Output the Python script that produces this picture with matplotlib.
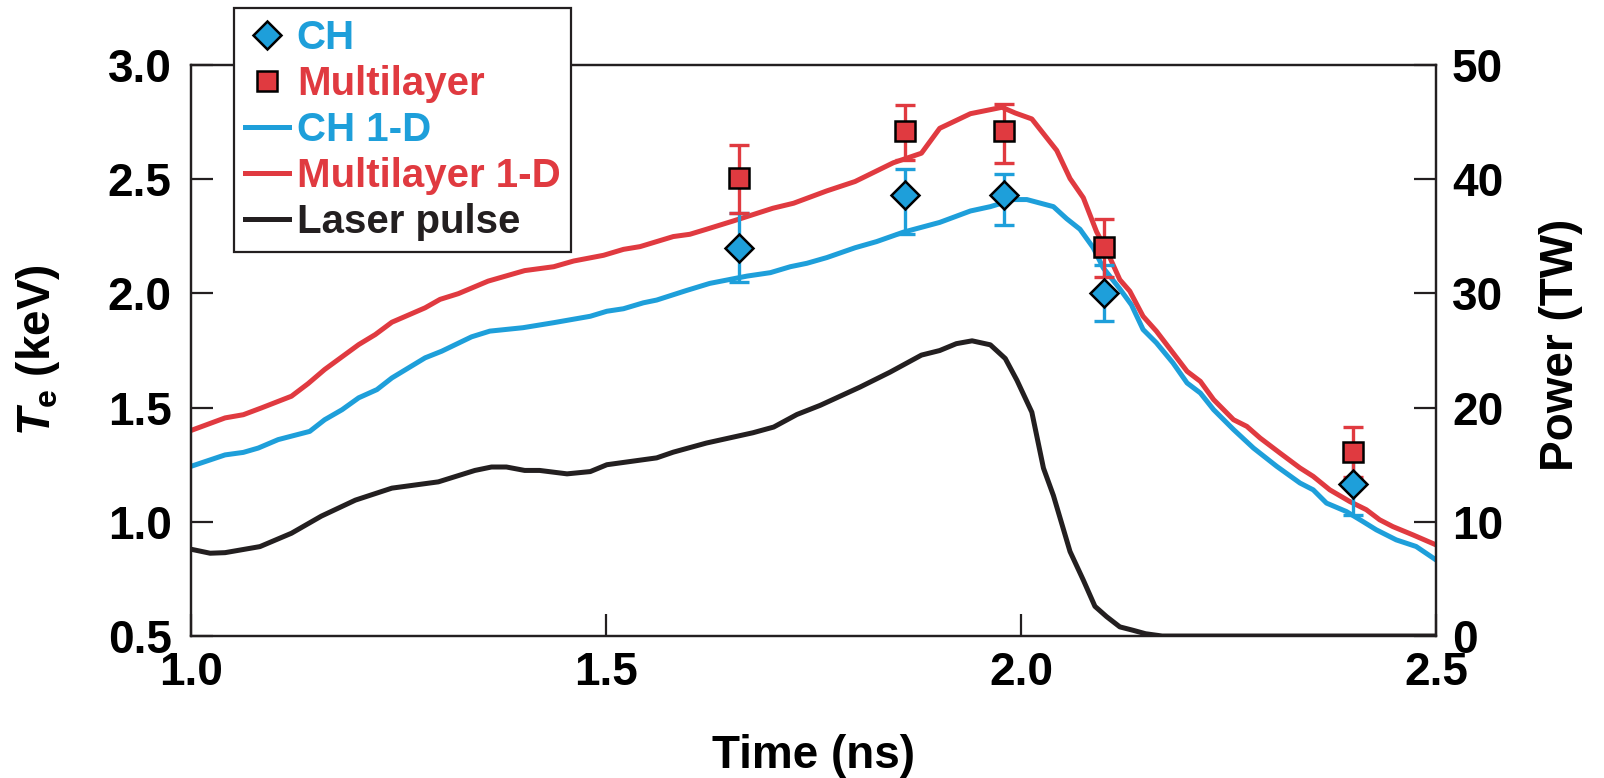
import matplotlib
matplotlib.use("Agg")
import matplotlib.pyplot as plt

# Fonts: bold Helvetica look-alike
plt.rcParams['font.family'] = ['Liberation Sans', 'DejaVu Sans']
plt.rcParams['font.weight'] = 'bold'
plt.rcParams['mathtext.fontset'] = 'custom'
plt.rcParams['mathtext.rm'] = 'Liberation Sans:bold'
plt.rcParams['mathtext.it'] = 'Liberation Sans:italic:bold'
plt.rcParams['mathtext.bf'] = 'Liberation Sans:bold'

BLUE = "#1e9fda"
RED = "#e03a40"
BLACK = "#231f20"

# Simulated Te, multilayer 1-D (ns, keV)
t_ml_1d = [1.0, 1.041, 1.063, 1.085, 1.121, 1.141, 1.161, 1.202, 1.222, 1.242,
           1.282, 1.30, 1.322, 1.358, 1.402, 1.437, 1.461, 1.497, 1.521, 1.541,
           1.581, 1.601, 1.621, 1.653, 1.701, 1.726, 1.766, 1.80, 1.846, 1.88,
           1.902, 1.939, 1.977, 1.993, 2.013, 2.043, 2.059, 2.075, 2.091, 2.105,
           2.119, 2.131, 2.147, 2.163, 2.183, 2.20, 2.216, 2.232, 2.256, 2.272,
           2.288, 2.312, 2.336, 2.352, 2.372, 2.396, 2.416, 2.432, 2.448, 2.472, 2.50]
te_ml_1d = [1.40, 1.455, 1.469, 1.499, 1.55, 1.605, 1.667, 1.776, 1.82, 1.874,
            1.937, 1.974, 1.999, 2.054, 2.10, 2.117, 2.142, 2.167, 2.193, 2.205,
            2.249, 2.259, 2.281, 2.317, 2.373, 2.395, 2.449, 2.49, 2.572, 2.614,
            2.723, 2.787, 2.815, 2.79, 2.764, 2.626, 2.503, 2.419, 2.27, 2.173,
            2.06, 2.01, 1.90, 1.835, 1.74, 1.659, 1.615, 1.535, 1.447, 1.418,
            1.367, 1.301, 1.236, 1.199, 1.14, 1.089, 1.053, 1.009, 0.979, 0.943, 0.899]

# Simulated Te, CH 1-D
t_ch_1d = [1.0, 1.041, 1.063, 1.081, 1.105, 1.143, 1.161, 1.182, 1.202, 1.224,
           1.242, 1.282, 1.302, 1.338, 1.36, 1.40, 1.437, 1.481, 1.501, 1.521,
           1.545, 1.561, 1.597, 1.625, 1.67, 1.698, 1.722, 1.742, 1.766, 1.80,
           1.826, 1.858, 1.902, 1.939, 1.963, 1.991, 2.007, 2.039, 2.055, 2.071,
           2.087, 2.099, 2.119, 2.133, 2.147, 2.163, 2.183, 2.20, 2.216, 2.232,
           2.256, 2.28, 2.308, 2.336, 2.352, 2.368, 2.392, 2.412, 2.428, 2.452,
           2.476, 2.50]
te_ch_1d = [1.243, 1.293, 1.304, 1.323, 1.36, 1.396, 1.447, 1.491, 1.543, 1.579,
            1.63, 1.718, 1.747, 1.81, 1.835, 1.85, 1.872, 1.90, 1.922, 1.933,
            1.959, 1.971, 2.013, 2.044, 2.076, 2.091, 2.117, 2.132, 2.157, 2.20,
            2.227, 2.268, 2.311, 2.361, 2.38, 2.411, 2.411, 2.38, 2.327, 2.281,
            2.20, 2.112, 2.02, 1.95, 1.842, 1.784, 1.696, 1.608, 1.564, 1.491,
            1.404, 1.323, 1.243, 1.17, 1.14, 1.082, 1.045, 1.001, 0.965, 0.921,
            0.892, 0.833]

# Laser pulse power (TW)
t_laser = [1.0, 1.023, 1.041, 1.083, 1.121, 1.157, 1.198, 1.242, 1.298, 1.342,
           1.362, 1.38, 1.402, 1.42, 1.453, 1.481, 1.501, 1.561, 1.581, 1.621,
           1.677, 1.702, 1.73, 1.758, 1.782, 1.806, 1.842, 1.88, 1.902, 1.922,
           1.941, 1.963, 1.981, 1.995, 2.013, 2.027, 2.039, 2.059, 2.075, 2.089,
           2.103, 2.119, 2.135, 2.15, 2.17, 2.5]
p_laser = [7.6, 7.25, 7.3, 7.83, 9.0, 10.5, 11.9, 12.95, 13.5, 14.5,
           14.8, 14.8, 14.5, 14.5, 14.2, 14.4, 15.0, 15.6, 16.1, 16.9,
           17.8, 18.3, 19.4, 20.2, 21.0, 21.8, 23.1, 24.6, 25.0, 25.6,
           25.85, 25.5, 24.3, 22.4, 19.6, 14.7, 12.3, 7.4, 4.9, 2.6,
           1.7, 0.8, 0.5, 0.2, 0.0, 0.0]

# Measured Te with error bars
t_meas = [1.66, 1.86, 1.98, 2.10, 2.40]
te_ch = [2.20, 2.43, 2.43, 2.00, 1.165]
ch_err_lo = [0.15, 0.17, 0.13, 0.12, 0.135]
ch_err_hi = [0.15, 0.115, 0.095, 0.125, 0.135]
te_ml = [2.505, 2.71, 2.71, 2.205, 1.305]
ml_err_lo = [0.155, 0.125, 0.14, 0.135, 0.11]
ml_err_hi = [0.145, 0.115, 0.12, 0.12, 0.11]

fig = plt.figure(figsize=(16.04, 7.78), dpi=100)
ax = fig.add_axes([0.1191, 0.1825, 0.7762, 0.7339])
ax2 = ax.twinx()

ax.plot(t_ch_1d, te_ch_1d, color=BLUE, lw=3.6, label="CH 1-D", zorder=2)
ax.plot(t_ml_1d, te_ml_1d, color=RED, lw=3.6, label="Multilayer 1-D", zorder=2.1)

ax.errorbar(t_meas, te_ch, yerr=[ch_err_lo, ch_err_hi], fmt='none', ecolor=BLUE,
            elinewidth=2.4, capsize=7.5, capthick=2.4, zorder=3)
ax.errorbar(t_meas, te_ml, yerr=[ml_err_lo, ml_err_hi], fmt='none', ecolor=RED,
            elinewidth=2.4, capsize=7.5, capthick=2.4, zorder=3.1)
ax.plot(t_meas, te_ch, 'D', ms=14, mfc=BLUE, mec='black', mew=1.8,
        linestyle='none', label="CH", zorder=4)
ax.plot(t_meas, te_ml, 's', ms=15, mfc=RED, mec='black', mew=1.8,
        linestyle='none', label="Multilayer", zorder=4.1)

ax2.plot(t_laser, p_laser, color=BLACK, lw=3.6, label="Laser pulse")

ax.set_xlim(1.0, 2.5)
ax.set_ylim(0.5, 3.0)
ax2.set_ylim(0, 50)
ax.set_xticks([1.0, 1.5, 2.0, 2.5])
ax.set_yticks([0.5, 1.0, 1.5, 2.0, 2.5, 3.0])
ax2.set_yticks([0, 10, 20, 30, 40, 50])

for a in (ax, ax2):
    for s in a.spines.values():
        s.set_linewidth(1.6)
        s.set_color(BLACK)
ax.tick_params(axis='both', direction='in', length=16, width=1.6,
               labelsize=33, color=BLACK, top=False, right=False)
ax.tick_params(axis='y', pad=14)
ax.tick_params(axis='x', pad=10.5)
ax2.tick_params(axis='y', direction='in', length=16, width=1.6,
                labelsize=33, color=BLACK, pad=11.5)

ax.set_xlabel("Time (ns)", fontsize=33, fontweight='bold')
ax.xaxis.set_label_coords(0.5, -0.172)
ax.set_ylabel(r"$\mathit{T}_{\mathrm{e}}$ (keV)", fontsize=33, fontweight='bold')
ax.yaxis.set_label_coords(-0.104, 0.5)
ax2.set_ylabel("Power (TW)", fontsize=33, fontweight='bold')
ax2.yaxis.set_label_coords(1.083, 0.51)

# Legend (collect handles from both axes)
h1, l1 = ax.get_legend_handles_labels()
h2, l2 = ax2.get_legend_handles_labels()
handles = dict(zip(l1 + l2, h1 + h2))
order = ["CH", "Multilayer", "CH 1-D", "Multilayer 1-D", "Laser pulse"]
leg = ax2.legend([handles[k] for k in order], order, loc='upper left',
                 bbox_to_anchor=(0.0345, 1.1), borderaxespad=0, fontsize=29,
                 frameon=True, fancybox=False, framealpha=1, edgecolor=BLACK,
                 handlelength=1.09, handletextpad=0.2, labelspacing=0.2,
                 borderpad=0.27, numpoints=1)
leg.get_frame().set_linewidth(1.6)
text_colors = [BLUE, RED, BLUE, RED, BLACK]
for txt, c in zip(leg.get_texts(), text_colors):
    txt.set_color(c)

fig.savefig("out.png", dpi=100)
